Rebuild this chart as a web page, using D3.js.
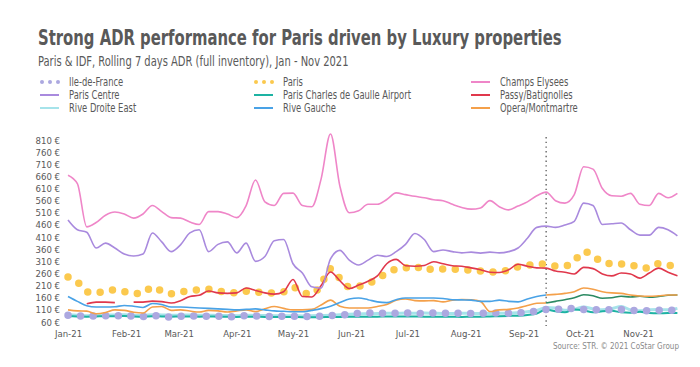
<!DOCTYPE html>
<html>
<head>
<meta charset="utf-8">
<script src="https://cdn.jsdelivr.net/npm/d3@7"></script>
<style>
	body { margin: 0; background: #fff; }
	text { font-family: "Liberation Sans Narrow", "DejaVu Sans Condensed", sans-serif; fill: #595959; }
</style>
</head>
<body>
<div id="chart"></div>
<script>

// every 5 days, 2021
var dates = [
	'01-01','01-06','01-11','01-16','01-21','01-26','01-31','02-05','02-10','02-15','02-20','02-25',
	'03-02','03-07','03-12','03-17','03-22','03-27','04-01','04-06','04-11','04-16','04-21','04-26',
	'05-01','05-06','05-11','05-16','05-21','05-26','05-31','06-05','06-10','06-15','06-20','06-25',
	'06-30','07-05','07-10','07-15','07-20','07-25','07-30','08-04','08-09','08-14','08-19','08-24',
	'08-29','09-03','09-08','09-13','09-18','09-23','09-28','10-03','10-08','10-13','10-18','10-23',
	'10-28','11-02','11-07','11-12','11-17','11-22'
];
var month_ticks = ['01-01','02-01','03-01','04-01','05-01','06-01','07-01','08-01','09-01','10-01','11-01'];
var y_ticks = [60, 110, 160, 210, 260, 310, 360, 410, 460, 510, 560, 610, 660, 710, 760, 810];
var marker_date = '09-13';

var ile_de_france = [88,84,85,84,86,85,87,84,83,86,83,80,84,85,83,84,84,82,82,86,85,84,82,84,
	84,82,84,84,86,88,92,95,97,96,97,96,97,95,96,97,96,95,96,95,96,97,97,96,97,100,105,112,
	112,115,116,112,110,110,110,112,108,106,106,108,108,110];
var paris = [245,225,185,179,190,192,185,177,178,205,188,176,183,190,192,195,188,182,180,187,184,180,
	180,184,204,182,175,215,280,240,204,207,217,238,262,278,283,290,272,280,278,278,276,273,270,267,
	266,275,287,293,300,297,291,291,312,350,335,305,300,299,297,283,283,300,295,283];
var champs_elysees = [665,630,452,470,500,513,505,488,505,540,515,490,488,472,462,515,515,505,490,540,
	645,555,540,590,591,540,535,650,835,620,510,518,545,545,565,592,585,578,572,564,560,545,532,525,
	530,560,535,522,538,555,580,595,560,550,585,700,690,610,580,578,590,545,540,590,572,590];
var paris_centre = [480,440,430,365,385,365,340,332,340,427,390,350,378,427,440,350,380,390,345,385,
	310,330,395,400,300,262,205,200,320,355,315,295,315,335,330,350,380,425,400,350,357,350,345,348,
	344,348,345,350,365,405,450,455,450,460,475,550,540,462,465,468,440,418,418,450,440,415];
var charles_de_gaulle = [84,83,82,83,84,84,85,83,82,84,83,82,83,83,82,83,82,82,81,82,82,81,81,81,
	81,80,80,80,81,81,82,82,82,82,83,83,83,83,82,82,82,82,81,82,82,83,84,85,86,89,95,112,
	104,100,112,108,100,104,106,100,98,102,97,96,97,97];
var passy_batignolles = [null,null,135,142,142,140,null,142,142,146,144,138,148,165,170,188,180,178,180,200,
	190,180,175,185,235,165,163,210,266,230,198,212,228,250,300,318,292,290,293,308,300,292,290,283,
	275,265,264,275,298,290,283,282,270,265,258,285,280,258,250,262,258,241,262,282,265,250];
var rive_droite_east = [90,88,86,87,88,89,90,88,87,90,89,88,88,89,88,88,87,87,86,88,87,87,86,86,
	86,85,86,87,88,90,92,93,94,95,96,96,97,96,97,96,95,95,96,96,95,95,96,97,98,102,108,120,
	118,108,112,122,114,110,115,124,110,106,110,112,110,116];
var rive_gauche = [165,145,127,122,122,123,128,125,120,136,132,122,122,120,118,116,114,112,110,112,
	114,110,106,104,102,102,108,115,125,140,155,159,152,143,140,152,159,159,159,159,157,152,151,150,
	145,145,150,145,143,155,165,171,174,178,185,200,195,185,180,178,171,167,166,168,171,171];
var opera_montmartre = [110,106,105,94,99,110,108,100,97,122,124,108,110,105,101,108,106,101,106,110,
	103,115,124,116,110,110,112,130,150,125,118,118,118,124,132,150,155,148,147,148,143,150,153,152,
	145,103,110,112,118,128,137,138,145,152,160,172,168,158,160,166,163,166,162,165,170,171];

var series = [
	{name: 'Rive Droite East', values: rive_droite_east, color: '#a6e3ea', width: 3},
	{name: 'Paris Charles de Gaulle Airport', values: charles_de_gaulle, color: '#1db3a3', width: 2},
	{name: 'Ile-de-France', values: ile_de_france, color: '#aca8e0', dots: true},
	{name: 'Opera/Montmartre', values: opera_montmartre, color: '#f4a04a', after: '#2b8a62', width: 1.6},
	{name: 'Rive Gauche', values: rive_gauche, color: '#49a2e6', after: '#f4a04a', width: 1.6},
	{name: 'Paris', values: paris, color: '#fbc94e', dots: true},
	{name: 'Passy/Batignolles', values: passy_batignolles, color: '#e0384c', width: 1.6},
	{name: 'Paris Centre', values: paris_centre, color: '#a98ade', width: 1.6},
	{name: 'Champs Elysees', values: champs_elysees, color: '#ef86c8', width: 1.6}
];

var legend_cols = [
	['Ile-de-France', 'Paris Centre', 'Rive Droite East'],
	['Paris', 'Paris Charles de Gaulle Airport', 'Rive Gauche'],
	['Champs Elysees', 'Passy/Batignolles', 'Opera/Montmartre']
];

var width = 700, height = 367;
var parse = function(s) { return d3.timeParse('%Y-%m-%d')('2021-' + s); };

var svg = d3.select('#chart').append('svg')
	.attr('width', width)
	.attr('height', height);

var x = d3.scaleTime()
	.domain([parse('01-01'), parse('11-22')])
	.range([68, 677.4]);
var y = d3.scaleLinear()
	.domain([60, 810])
	.range([322, 140]);

// titles (squeezed sideways, the original face is a condensed one)
svg.append('text')
	.attr('transform', 'translate(38,45) scale(0.75,1)')
	.attr('font-size', 22).attr('font-weight', 'bold')
	.text('Strong ADR performance for Paris driven by Luxury properties');
svg.append('text')
	.attr('transform', 'translate(38,66) scale(0.79,1)')
	.attr('font-size', 14)
	.text('Paris & IDF, Rolling 7 days ADR  (full inventory), Jan - Nov 2021');

// legend
var col_x = [40, 254, 471];
var lookup = {};
series.forEach(function(s) { lookup[s.name] = s; });

legend_cols.forEach(function(col, ci) {
	col.forEach(function(name, ri) {
		var s = lookup[name];
		var ly = 82 + ri * 13;
		var g = svg.append('g').attr('transform', 'translate(' + col_x[ci] + ',' + ly + ')');
		if (s.dots) {
			g.selectAll('circle').data([2, 10, 18]).enter().append('circle')
				.attr('cx', function(d) { return d; })
				.attr('cy', 0)
				.attr('r', 2)
				.attr('fill', s.color);
		} else {
			g.append('line')
				.attr('x1', 0).attr('x2', 19)
				.attr('stroke', s.color)
				.attr('stroke-width', 2);
		}
		g.append('text')
			.attr('transform', 'translate(29,0) scale(0.81,1)')
			.attr('dy', '0.35em')
			.attr('font-size', 11.5)
			.text(name);
	});
});

// axes
var y_axis = svg.append('g')
	.attr('transform', 'translate(63,0)')
	.call(d3.axisLeft(y).tickValues(y_ticks).tickSize(0).tickPadding(3)
		.tickFormat(function(d) { return d + ' €'; }));
var x_axis = svg.append('g')
	.attr('transform', 'translate(0,322)')
	.call(d3.axisBottom(x).tickValues(month_ticks.map(parse)).tickSize(0).tickPadding(8)
		.tickFormat(d3.timeFormat('%b-%y')));

[y_axis, x_axis].forEach(function(a) {
	a.select('.domain').remove();
	a.selectAll('text')
		.attr('font-size', 9.5)
		.attr('font-family', '"Liberation Sans Narrow", "DejaVu Sans Condensed", sans-serif')
		.attr('fill', '#666');
});

// marker
var mx = x(parse(marker_date));
svg.append('line')
	.attr('x1', mx).attr('x2', mx)
	.attr('y1', 137).attr('y2', 326)
	.attr('stroke', '#666')
	.attr('stroke-width', 1.4)
	.attr('stroke-dasharray', '1.4 3.3');

// lines
var line = d3.line()
	.defined(function(d) { return d.v != null; })
	.x(function(d) { return x(d.date); })
	.y(function(d) { return y(d.v); })
	.curve(d3.curveMonotoneX);

var plot = svg.append('g').attr('fill', 'none');
var md = parse(marker_date);

series.forEach(function(s) {
	var pts = s.values.map(function(v, i) { return {date: parse(dates[i]), v: v}; });
	if (s.dots) {
		plot.append('path')
			.attr('d', line(pts))
			.attr('stroke', s.color)
			.attr('stroke-width', 7.5)
			.attr('stroke-linecap', 'round')
			.attr('stroke-dasharray', '0 12.6');
		return;
	}
	var parts = s.after
		? [[pts.filter(function(d) { return d.date <= md; }), s.color],
		   [pts.filter(function(d) { return d.date >= md; }), s.after]]
		: [[pts, s.color]];
	parts.forEach(function(p) {
		plot.append('path')
			.attr('d', line(p[0]))
			.attr('stroke', p[1])
			.attr('stroke-width', s.width)
			.attr('stroke-linejoin', 'round');
	});
});

svg.append('text')
	.attr('x', 679).attr('y', 349)
	.attr('text-anchor', 'end')
	.attr('font-size', 8)
	.style('fill', '#8a8a8a')
	.text('Source: STR. © 2021 CoStar Group');

</script>
</body>
</html>
